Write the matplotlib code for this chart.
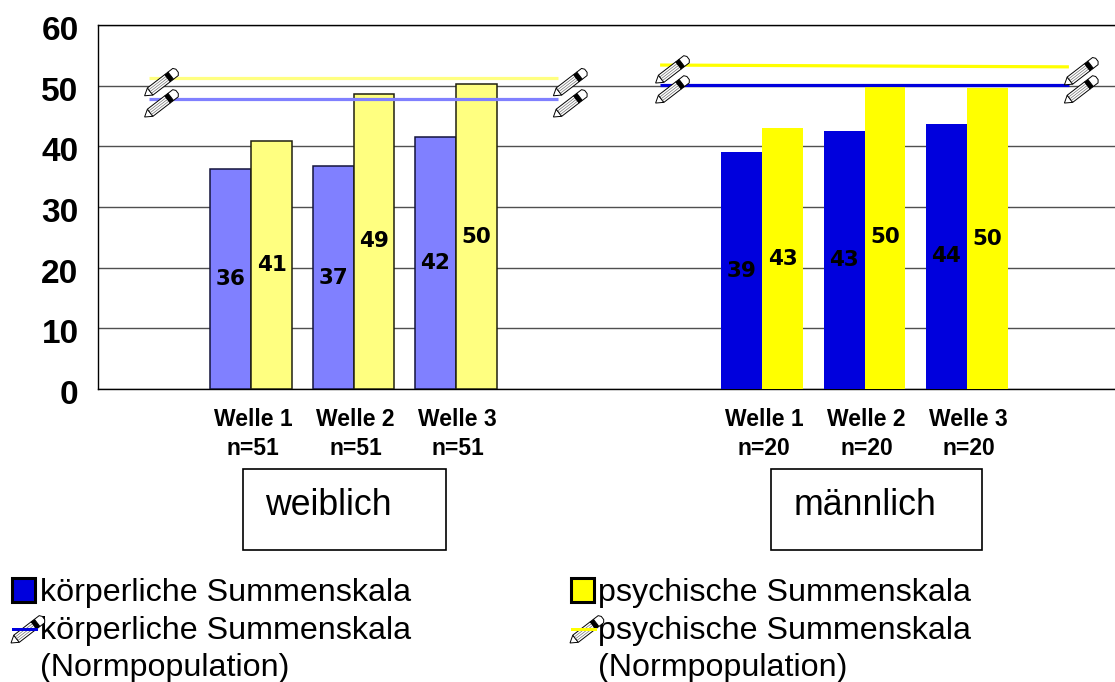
import numpy as np
import matplotlib
matplotlib.use('Agg')
import matplotlib.pyplot as plt
from matplotlib.patches import Polygon, Rectangle
from matplotlib.transforms import IdentityTransform, ScaledTranslation

plt.rcParams['font.family'] = ['Liberation Sans', 'DejaVu Sans']

W, H = 1115, 682

# data
x_labels = ['Welle 1\nn=51', 'Welle 2\nn=51', 'Welle 3\nn=51',
            'Welle 1\nn=20', 'Welle 2\nn=20', 'Welle 3\nn=20']
x_pos = [1.5, 2.5, 3.5, 6.5, 7.5, 8.5]
koerper_f = [36.3, 36.7, 41.6]
psych_f = [40.8, 48.7, 50.2]
koerper_m = [39.0, 42.6, 43.7]
psych_m = [43.0, 50.0, 49.6]
koerper_f_txt = ['36', '37', '42']
psych_f_txt = ['41', '49', '50']
koerper_m_txt = ['39', '43', '44']
psych_m_txt = ['43', '50', '50']
norm_f_x = [0.5, 4.5]
norm_m_x = [5.5, 9.5]
norm_koerper_f = [47.8, 47.8]
norm_psych_f = [51.3, 51.3]
norm_koerper_m = [50.1, 50.1]
norm_psych_m = [53.4, 53.1]

blue_light = '#8080ff'
yellow_light = '#ffff80'
blue = '#0000dd'
yellow = '#ffff00'


def pencil(fig, tip_x, tip_y):
    # little pencil symbol, coordinates in pixels from the image top
    tip = np.array([tip_x, H - tip_y], dtype=float)
    u = np.array([32.5, 25.0])
    u = u / np.hypot(*u)
    n = np.array([-u[1], u[0]])
    w = 4.5

    def pt(a, b):
        return tip + a * u + b * n

    def add(pts, fc, ec='black', lw=0.7):
        fig.add_artist(Polygon(pts, closed=True, fc=fc, ec=ec, lw=lw,
                               transform=IdentityTransform(), zorder=6))

    add([pt(0, 0), pt(7, w), pt(7, -w)], 'white')
    add([pt(7, w), pt(29, w), pt(29, -w), pt(7, -w)], 'white')
    for b in (-2.2, 0, 2.2):
        add([pt(7, b), pt(29, b)], 'none', '#707070', 0.5)
    add([pt(29, w), pt(33, w), pt(33, -w), pt(29, -w)], 'black')
    add([pt(33, w), pt(39, w), pt(41, 2), pt(41, -2), pt(39, -w), pt(33, -w)], 'white')


fig = plt.figure(figsize=(W / 100, H / 100), dpi=100)
ax = fig.add_axes([98 / W, 1 - 389 / H, 1017 / W, 364 / H])

bar_w = 0.4
x = np.array(x_pos)
b1 = ax.bar(x[:3] - bar_w / 2, koerper_f, bar_w, color=blue_light, zorder=3,
            edgecolor='#14143c', linewidth=1.1)
b2 = ax.bar(x[:3] + bar_w / 2, psych_f, bar_w, color=yellow_light, zorder=3,
            edgecolor='#202010', linewidth=1.1)
b3 = ax.bar(x[3:] - bar_w / 2, koerper_m, bar_w, color=blue, zorder=3)
b4 = ax.bar(x[3:] + bar_w / 2, psych_m, bar_w, color=yellow, zorder=3)

for bars, txt in ((b1, koerper_f_txt), (b2, psych_f_txt), (b3, koerper_m_txt), (b4, psych_m_txt)):
    ax.bar_label(bars, labels=txt, label_type='center', family='DejaVu Sans',
                 fontweight='bold', fontsize=15.5, color='black', zorder=5)

ax.plot(norm_f_x, norm_psych_f, color=yellow_light, lw=2.3, zorder=4, solid_capstyle='butt')
ax.plot(norm_f_x, norm_koerper_f, color=blue_light, lw=2.3, zorder=4, solid_capstyle='butt')
ax.plot(norm_m_x, norm_psych_m, color=yellow, lw=2.3, zorder=4, solid_capstyle='butt')
ax.plot(norm_m_x, norm_koerper_m, color=blue, lw=2.3, zorder=4, solid_capstyle='butt')

ax.set_xlim(0, 1017 / 102.2)
ax.set_ylim(0, 60)
ax.set_yticks(range(0, 61, 10))
ax.set_xticks(x_pos)
ax.set_xticklabels(x_labels, fontweight='bold', fontsize=16.5, linespacing=1.33)
ax.tick_params(axis='x', length=0, pad=13.5)
ax.tick_params(axis='y', length=0, pad=14, labelsize=24)
# y labels sit a little lower than the grid lines, x labels a little right
shift_y = ScaledTranslation(0, -3 / 100, fig.dpi_scale_trans)
shift_x = ScaledTranslation(2 / 100, 0, fig.dpi_scale_trans)
for lab in ax.get_yticklabels():
    lab.set_fontweight('bold')
    lab.set_transform(lab.get_transform() + shift_y)
for lab in ax.get_xticklabels():
    lab.set_transform(lab.get_transform() + shift_x)
ax.grid(axis='y', color='#505050', lw=1, zorder=0)
ax.set_axisbelow(True)
ax.spines['right'].set_visible(False)
for s in ('left', 'bottom', 'top'):
    ax.spines[s].set_color('black')
    ax.spines[s].set_linewidth(1)

# pencils sit on the ends of the norm lines
fig.canvas.draw()
for xs, ys in ((norm_f_x, norm_psych_f), (norm_f_x, norm_koerper_f),
               (norm_m_x, norm_psych_m), (norm_m_x, norm_koerper_m)):
    for xv, yv in zip(xs, ys):
        px, py = ax.transData.transform((xv, yv))
        pencil(fig, px - 4.5, H - py + 18)


def box(x0, y0, x1, y1, label, tx):
    fig.add_artist(Rectangle((x0 / W, 1 - y1 / H), (x1 - x0) / W, (y1 - y0) / H,
                             fc='white', ec='black', lw=1.2, transform=fig.transFigure))
    fig.text(tx / W, 1 - ((y0 + y1) / 2 - 4) / H, label, fontsize=25.7, va='center', ha='left')


box(243, 469, 446, 550, 'weiblich', 265)
box(771, 469, 982, 550, 'männlich', 794)


def legend_text(tx, ty, s):
    fig.text(tx / W, 1 - ty / H, s, fontsize=23.2, va='baseline', ha='left')


def legend_entries(x0, tx, color, label):
    fig.add_artist(Rectangle((x0 / W, 1 - 602 / H), 23 / W, 24 / H, fc=color, ec='black',
                             lw=2.2, transform=fig.transFigure, zorder=5))
    legend_text(tx, 601, label)
    pencil(fig, x0 - 1, 643)
    # the line is drawn over the pencil here
    fig.add_artist(Rectangle((x0 / W, 1 - 631 / H), 26 / W, 3.5 / H, fc=color, ec='none',
                             transform=fig.transFigure, zorder=7))
    legend_text(tx, 639, label)
    legend_text(tx, 676, '(Normpopulation)')


legend_entries(12, 40, blue, 'körperliche Summenskala')
legend_entries(571, 598, yellow, 'psychische Summenskala')

fig.savefig('out.png', dpi=100)
